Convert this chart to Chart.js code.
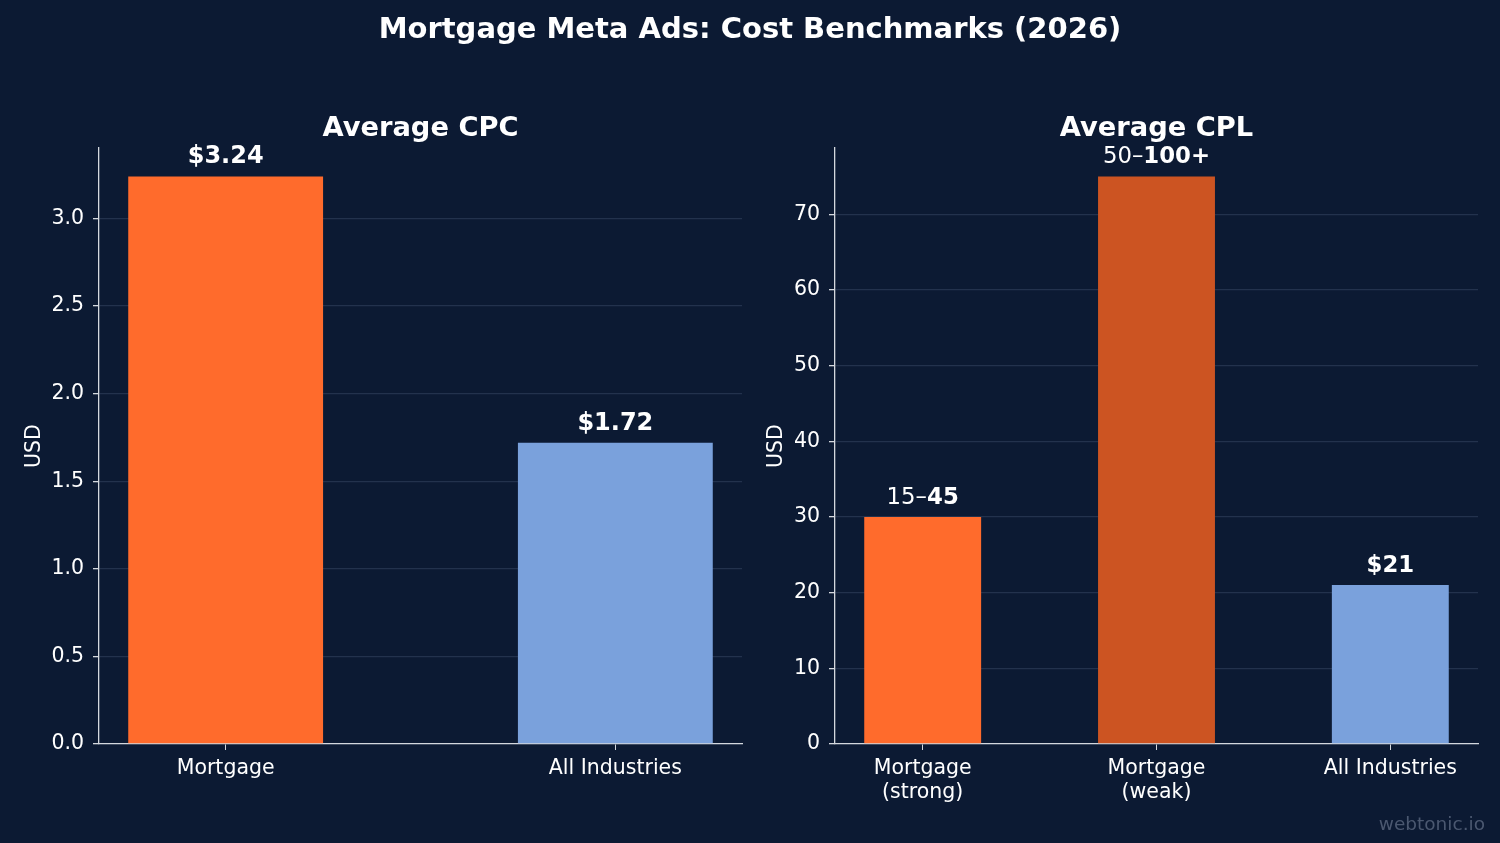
<!DOCTYPE html>
<html>
<head>
<meta charset="utf-8">
<script src="https://cdn.jsdelivr.net/npm/chart.js@4"></script>
<style>
  html, body { margin: 0; padding: 0; background: #0c1a33; }
  #wrap { position: relative; width: 1500px; height: 843px; }
  canvas { position: absolute; left: 0; top: 0; }
</style>
</head>
<body>
<div id="wrap">
  <canvas id="cpc" width="1500" height="843"></canvas>
  <canvas id="cpl" width="1500" height="843"></canvas>
</div>
<script>
// data
const cpcCategories = ['Mortgage', 'All Industries'];
const cpcValues = [3.24, 1.72];
const cpcLabels = [['', '$3.24'], ['', '$1.72']];   // [normal part, bold part]
const cpcColors = ['#ff6b2c', '#7aa1dc'];

const cplCategories = [['Mortgage', '(strong)'], ['Mortgage', '(weak)'], 'All Industries'];
const cplValues = [30, 75, 21];
const cplLabels = [['15\u2013', '45'], ['50\u2013', '100+'], ['', '$21']];
const cplColors = ['#ff6b2c', '#cc5422', '#7aa1dc'];

const FONT = "'DejaVu Sans', sans-serif";
const AXIS = '#d4d8de';
const GRID = '#23324d';
const TEXT = '#ffffff';
const TICK_SIZE = 20.5;

// bar value labels, part normal part bold
const valueLabels = {
  id: 'valueLabels',
  afterDatasetsDraw(chart, args, opts) {
    const ctx = chart.ctx;
    const bars = chart.getDatasetMeta(0).data;
    const sz = opts.size;
    ctx.save();
    ctx.fillStyle = TEXT;
    ctx.textBaseline = 'alphabetic';
    ctx.textAlign = 'left';
    bars.forEach((bar, i) => {
      const [plain, bold] = opts.labels[i];
      ctx.font = sz + 'px ' + FONT;
      const w1 = ctx.measureText(plain).width;
      ctx.font = 'bold ' + sz + 'px ' + FONT;
      const w2 = ctx.measureText(bold).width;
      const x0 = bar.x - (w1 + w2) / 2;
      const y = bar.y - 13;
      ctx.font = sz + 'px ' + FONT;
      ctx.fillText(plain, x0, y);
      ctx.font = 'bold ' + sz + 'px ' + FONT;
      ctx.fillText(bold, x0 + w1, y);
    });
    ctx.restore();
  }
};

// panel titles, main title and watermark
const titles = {
  id: 'titles',
  afterDraw(chart, args, opts) {
    const ctx = chart.ctx;
    const a = chart.chartArea;
    ctx.save();
    ctx.fillStyle = TEXT;
    ctx.textAlign = 'center';
    ctx.textBaseline = 'middle';
    ctx.font = 'bold 27.3px ' + FONT;
    ctx.fillText(opts.text, (a.left + a.right) / 2, 129);
    if (opts.main) {
      ctx.font = 'bold 29px ' + FONT;
      ctx.fillText(opts.main, 750, 30);
    }
    if (opts.mark) {
      ctx.fillStyle = '#4b5870';
      ctx.textAlign = 'right';
      ctx.font = '18.5px ' + FONT;
      ctx.fillText(opts.mark, 1485, 825);
    }
    ctx.restore();
  }
};

function makeChart(id, cats, values, colors, labels, opt) {
  const points = values.map((v, i) => ({ x: i, y: v }));
  return new Chart(document.getElementById(id), {
    type: 'bar',
    data: {
      datasets: [{
        data: points,
        backgroundColor: colors,
        borderWidth: 0,
        barPercentage: 0.5,
        categoryPercentage: 1
      }]
    },
    options: {
      responsive: false,
      animation: false,
      devicePixelRatio: 1,
      layout: { padding: opt.padding },
      plugins: {
        legend: { display: false },
        tooltip: { enabled: false },
        valueLabels: { labels: labels, size: opt.valSize },
        titles: { text: opt.title, main: opt.main, mark: opt.mark }
      },
      scales: {
        x: {
          type: 'linear',
          min: -0.25 - 0.05 * (cats.length - 0.5),
          max: cats.length - 0.75 + 0.05 * (cats.length - 0.5),
          offset: false,
          afterBuildTicks: s => { s.ticks = cats.map((c, i) => ({ value: i })); },
          afterFit: s => { s.height = 60; },
          grid: { drawOnChartArea: false, drawTicks: true, tickLength: 6, tickColor: AXIS, offset: false },
          border: { color: AXIS, width: 1.3 },
          ticks: {
            color: TEXT,
            font: { family: FONT, size: TICK_SIZE },
            padding: 6,
            maxRotation: 0,
            autoSkip: false,
            callback: v => cats[v]
          }
        },
        y: {
          min: 0,
          max: opt.yMax,
          afterFit: s => { s.width = opt.yWidth; },
          grid: { color: GRID, lineWidth: 1.3, tickColor: AXIS, tickLength: 6 },
          border: { color: AXIS, width: 1.3 },
          title: { display: true, text: 'USD', color: TEXT, font: { family: FONT, size: TICK_SIZE }, padding: 4 },
          ticks: {
            color: TEXT,
            font: { family: FONT, size: TICK_SIZE },
            padding: 9,
            stepSize: opt.step,
            includeBounds: false,
            callback: opt.fmt
          }
        }
      }
    },
    plugins: [valueLabels, titles]
  });
}

makeChart('cpc', cpcCategories, cpcValues, cpcColors, cpcLabels, {
  title: 'Average CPC',
  main: 'Mortgage Meta Ads: Cost Benchmarks (2026)',
  yMax: 3.402,
  step: 0.5,
  fmt: v => v.toFixed(1),
  yWidth: 81,
  valSize: 24,
  padding: { left: 18, right: 758, top: 148, bottom: 39 }
});

makeChart('cpl', cplCategories, cplValues, cplColors, cplLabels, {
  title: 'Average CPL',
  mark: 'webtonic.io',
  yMax: 78.75,
  step: 10,
  fmt: v => String(v),
  yWidth: 75,
  valSize: 22.8,
  padding: { left: 760, right: 22, top: 148, bottom: 39 }
});
</script>
</body>
</html>
